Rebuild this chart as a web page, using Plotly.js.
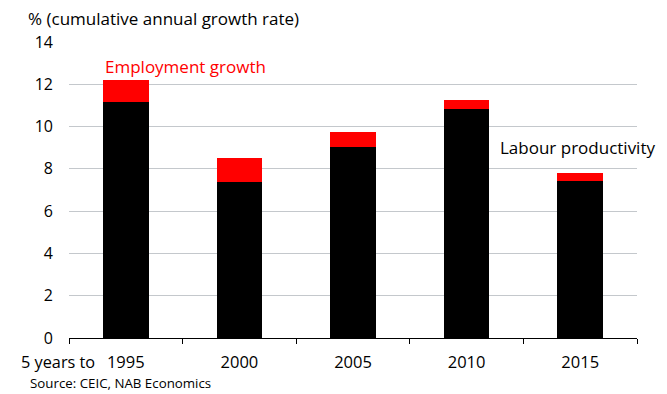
<!DOCTYPE html>
<html><head><meta charset="utf-8">
<script src="https://cdn.plot.ly/plotly-3.0.1.min.js"></script>
<style>body{margin:0;background:#fff}#c{width:667px;height:394px}</style>
</head><body><div id="c"></div>
<script>
const categories = ['1995', '2000', '2005', '2010', '2015'];
const labourProductivity = [11.15, 7.38, 9.02, 10.83, 7.44];
const employmentGrowth = [1.05, 1.15, 0.72, 0.41, 0.36];
const yTicks = [0, 2, 4, 6, 8, 10, 12, 14];

const font = 'Open Sans, Noto Sans, sans-serif';
const data = [
  {type: 'bar', x: categories, y: labourProductivity, name: 'Labour productivity',
   marker: {color: '#000000'}, width: 0.4},
  {type: 'bar', x: categories, y: employmentGrowth, name: 'Employment growth',
   marker: {color: '#ff0000'}, width: 0.4}
];
const layout = {
  width: 667, height: 394, barmode: 'stack', showlegend: false,
  paper_bgcolor: '#fff', plot_bgcolor: '#fff',
  margin: {l: 69, r: 30, t: 42, b: 56},
  font: {family: font, size: 16, color: '#000'},
  xaxis: {type: 'category', range: [-0.5, 4.5], showgrid: false, showline: true, linecolor: '#000', linewidth: 1,
    ticks: 'outside', ticklen: 5, tickcolor: '#000', tickson: 'boundaries', tickangle: 0,
    tickfont: {size: 16.5}, zeroline: false, ticklabelstandoff: 9},
  yaxis: {range: [0, 14], tickvals: yTicks, showgrid: true, gridcolor: '#c4c8cc', gridwidth: 1,
    zeroline: false, showline: false, ticks: '', tickfont: {size: 16}, ticklabelstandoff: 15},
  annotations: [
    {xref: 'paper', yref: 'paper', x: -0.0757, y: 1.081, xanchor: 'left', yanchor: 'middle',
     text: '% (cumulative annual growth rate)', showarrow: false, font: {size: 17}},
    {xref: 'x', yref: 'y', x: 0, y: 12.82, xshift: -23, xanchor: 'left', yanchor: 'middle',
     text: 'Employment growth', showarrow: false, font: {size: 17, color: '#ff0000'}},
    {xref: 'x', yref: 'y', x: 3, y: 8.99, xshift: 31, xanchor: 'left', yanchor: 'middle',
     text: 'Labour productivity', showarrow: false, font: {size: 17}},
    {xref: 'paper', yref: 'paper', x: -0.088, y: -0.081, xanchor: 'left', yanchor: 'middle',
     text: '5 years to', showarrow: false, font: {size: 16.3}},
    {xref: 'paper', yref: 'paper', x: -0.0722, y: -0.152, xanchor: 'left', yanchor: 'middle',
     text: 'Source: CEIC, NAB Economics', showarrow: false, font: {size: 13.3}}
  ]
};
Plotly.newPlot('c', data, layout, {displayModeBar: false, staticPlot: true});
</script></body></html>
